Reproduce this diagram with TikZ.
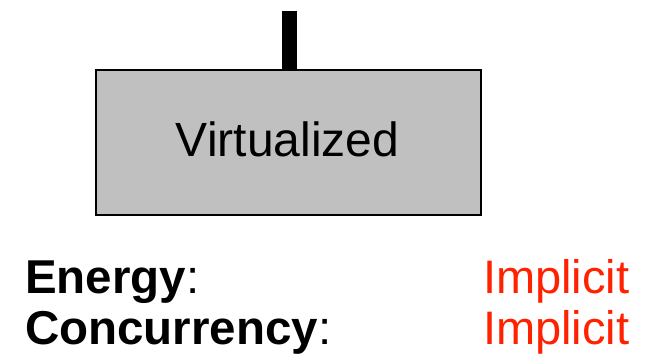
\documentclass[tikz,border=0pt]{standalone}
\usepackage{fontspec}
\setmainfont{Liberation Sans}
\definecolor{boxgray}{RGB}{192,192,192}
\definecolor{implred}{RGB}{255,34,0}
\begin{document}
\begin{tikzpicture}[x=1pt,y=-1pt,
  vbox/.style={draw=black,line width=2pt,fill=boxgray,minimum width=385pt,minimum height=145pt,inner sep=0pt,anchor=north west},
  lbl/.style={anchor=base west,inner sep=0pt,font=\fontsize{47.5}{47.5}\selectfont},
  bar/.style={line width=15pt}]
\useasboundingbox (0,0) rectangle (648,354);
\node[vbox] (box) at (95,69) {};
\node[anchor=base,inner sep=0pt,font=\fontsize{48}{48}\selectfont] (vt) at (287.5,156) {Virtualized};
\coordinate (bartop) at (289.5,10.5);
\draw[bar] (bartop) -- (bartop |- box.north);
\node[lbl] (en) at (25,293) {\textbf{Energy}:};
\node[lbl] (co) at (25,344) {\textbf{Concurrency}:};
\node[lbl,text=implred,font=\fontsize{47}{47}\selectfont] (i1) at (483,293) {Implicit};
\node[lbl,text=implred,font=\fontsize{47}{47}\selectfont] (i2) at (483,344) {Implicit};
\end{tikzpicture}
\end{document}
